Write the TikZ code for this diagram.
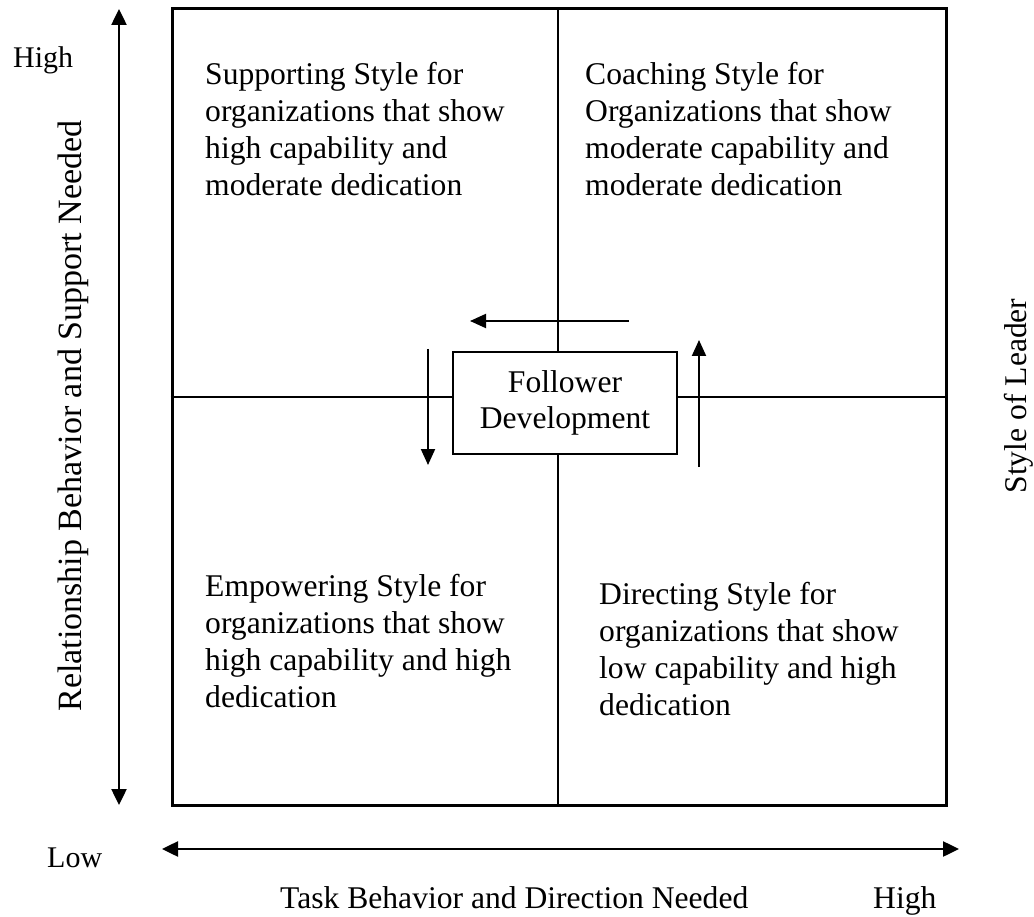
\documentclass[tikz,border=0pt]{standalone}
\usepackage{fontspec}
\setmainfont{Liberation Serif}
\usetikzlibrary{arrows.meta, positioning}

\begin{document}
\begin{tikzpicture}[
      x=1pt, y=-1pt,
      lbl/.style={inner sep=0pt, font=\fontsize{31.6}{37}\selectfont, align=left},
      small/.style={inner sep=0pt, font=\fontsize{30}{36}\selectfont},
      quad/.style={lbl, anchor=base west},
      axis/.style={{Triangle[length=16pt,width=15pt]}-{Triangle[length=16pt,width=15pt]}, line width=2.5pt},
      arr/.style={-{Triangle[length=16pt,width=14pt]}, line width=2pt},
      midline/.style={line width=1.5pt}
    ]
      \useasboundingbox (0,0) rectangle (1034,917);
      % frame and centre box
      \node[draw, line width=3pt, minimum width=774pt, minimum height=796pt, inner sep=0pt] (frame) at (559,407) {};
      \node[draw, line width=2pt, minimum width=224pt, minimum height=102pt, inner sep=0pt,
            font=\fontsize{31.6}{36}\selectfont, align=center] (follower) at (565,403) {Follower\\Development};
      \coordinate (vl) at (558,0);
      \coordinate (hl) at (0,397);
      \draw[midline] (frame.north -| vl) -- (follower.north -| vl);
      \draw[midline] (follower.south -| vl) -- (frame.south -| vl);
      \draw[midline] (frame.west |- hl) -- (follower.west |- hl);
      \draw[midline] (follower.east |- hl) -- (frame.east |- hl);
      % quadrants (base = last line)
      \node[quad] (supporting) at (205,196) {Supporting Style for\\organizations that show\\high capability and\\moderate dedication};
      \node[quad] (coaching) at (585,196) {Coaching Style for\\Organizations that show\\moderate capability and\\moderate dedication};
      \node[quad] (empowering) at (205,707) {Empowering Style for\\organizations that show\\high capability and high\\dedication};
      \node[quad] (directing) at (599,715) {Directing Style for\\organizations that show\\low capability and high\\dedication};
      % development arrows
      \coordinate (lfrom) at (629,321);
      \coordinate (lto) at (470,321);
      \coordinate (dfrom) at (428,349);
      \coordinate (dto) at (428,465);
      \coordinate (ufrom) at (699,467);
      \coordinate (uto) at (699,340);
      \draw[arr] (lfrom) -- (lto);
      \draw[arr] (dfrom) -- (dto);
      \draw[arr] (ufrom) -- (uto);
      % axes
      \coordinate (ytop) at (119,9);
      \coordinate (ybot) at (119,805);
      \coordinate (xleft) at (162,849);
      \coordinate (xright) at (959,849);
      \draw[axis] (ytop) -- (ybot);
      \draw[axis] (xleft) -- (xright);
      \node[small, anchor=base west] (yhigh) at (13,68) {High};
      \node[small, anchor=base west] (low) at (47,867) {Low};
      \node[lbl, anchor=base west] (xhigh) at (873,908) {High};
      \node[lbl, anchor=base west] (xlabel) at (280,908) {Task Behavior and Direction Needed};
      \node[inner sep=0pt, font=\fontsize{34}{40}\selectfont, anchor=base, rotate=90] (ylabel) at (81,416) {Relationship Behavior and Support Needed};
      \node[lbl, anchor=base, rotate=90] (leader) at (1026,396) {Style of Leader};
    \end{tikzpicture}
\end{document}
